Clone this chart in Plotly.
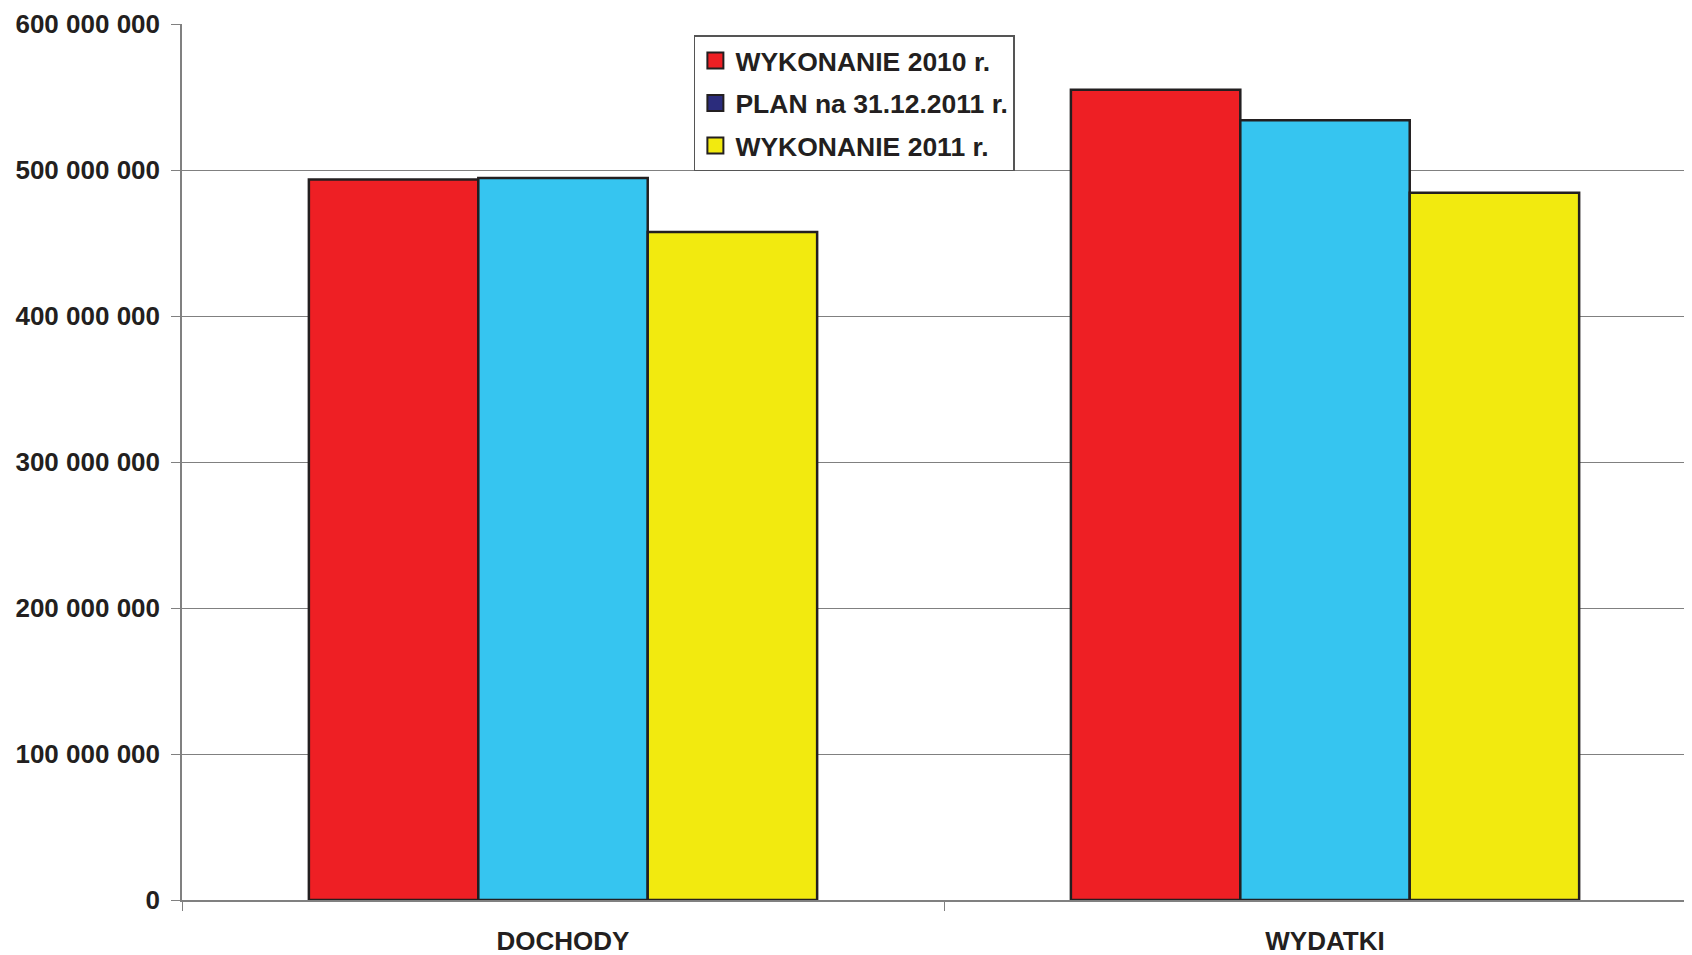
import plotly.graph_objects as go

categories = ["DOCHODY", "WYDATKI"]
series_names = ["WYKONANIE 2010 r.", "PLAN na 31.12.2011 r.", "WYKONANIE 2011 r."]
wyk_2010 = [493_500_000, 555_000_000]
plan_2011 = [494_500_000, 534_000_000]
wyk_2011 = [457_500_000, 484_500_000]
bar_colors = ["#EE1F24", "#36C5F0", "#F2EA0F"]
legend_colors = ["#EE1F24", "#2B2C7C", "#F2EA0F"]
y_tickvals = [0, 100_000_000, 200_000_000, 300_000_000, 400_000_000, 500_000_000, 600_000_000]
y_ticktext = ["0", "100 000 000", "200 000 000", "300 000 000", "400 000 000", "500 000 000", "600 000 000"]

TXT = "#231F20"
FONT = "Liberation Sans"

fig = go.Figure()
for name, vals, col in zip(series_names, [wyk_2010, plan_2011, wyk_2011], bar_colors):
    fig.add_trace(go.Bar(
        x=categories, y=vals, name=name, showlegend=False,
        marker=dict(color=col, line=dict(color=TXT, width=2.5)),
        hoverinfo="x+y+name",
    ))
for i, (name, col) in enumerate(zip(series_names, legend_colors)):
    fig.add_trace(go.Scatter(
        x=[None], y=[None], mode="markers", name=name, legendgroup=f"g{i}",
        marker=dict(symbol="square", size=18, color=col, line=dict(color=TXT, width=2)),
    ))

fig.update_layout(
    width=1684, height=947,
    margin=dict(l=174, r=0, t=16, b=55),
    paper_bgcolor="white", plot_bgcolor="white",
    barmode="group", bargap=0.333, bargroupgap=0,
    font=dict(family=FONT, size=26, color=TXT, weight="bold"),
    showlegend=True,
    legend=dict(
        x=0.339, y=0.987, xanchor="left", yanchor="top",
        bgcolor="white", bordercolor="#555555", borderwidth=1.5,
        font=dict(family=FONT, size=26.5, color=TXT, weight="bold"),
        itemsizing="trace", traceorder="grouped", tracegroupgap=5,
    ),
)
fig.update_xaxes(
    type="category", range=[-0.5, 1.4816], automargin=False,
    showline=True, linecolor="#808080", linewidth=1.5,
    ticks="outside", tickson="boundaries", ticklen=9, tickcolor="#808080",
    showgrid=False, zeroline=False, ticklabelstandoff=17,
    tickfont=dict(family=FONT, size=26, color=TXT, weight="bold"),
)
fig.update_yaxes(
    range=[0, 600_000_000], tickvals=y_tickvals, ticktext=y_ticktext, automargin=False,
    showline=True, linecolor="#808080", linewidth=1.5,
    ticks="outside", ticklen=9, tickcolor="#808080",
    showgrid=True, gridcolor="#808080", gridwidth=1,
    zeroline=False, ticklabelstandoff=6,
    tickfont=dict(family=FONT, size=26, color=TXT, weight="bold"),
)

fig.write_html("out.html")
